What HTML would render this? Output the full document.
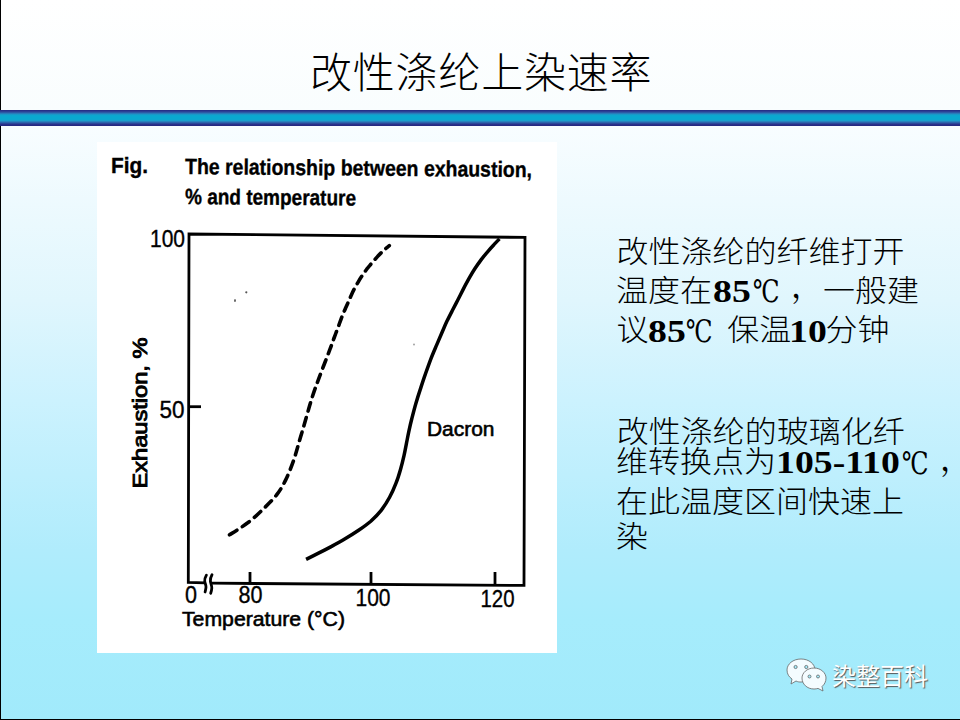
<!DOCTYPE html>
<html><head><meta charset="utf-8">
<style>
html,body{margin:0;padding:0;width:960px;height:720px;overflow:hidden;}
body{position:relative;background:linear-gradient(to bottom,#ffffff 0px,#f9fdfe 110px,#f8fdff 126px,#e0f6fd 300px,#ccf2fe 400px,#b0ecfc 550px,#a6ecfc 620px,#a1eafb 720px);font-family:"Liberation Sans","Noto Sans CJK SC",sans-serif;}
.lb{position:absolute;left:0;top:0;width:1px;height:720px;background:#000;}
.bb{position:absolute;left:0;top:719px;width:960px;height:1px;background:#000;}
.bar{position:absolute;left:0;top:110px;width:960px;height:16px;background:linear-gradient(to bottom,#232980 0px,#2a3a92 1.2px,#2d50a0 2.2px,#2a78b8 3.4px,#15a0cc 4.8px,#0aa8d0 6px,#0aa8d0 9.2px,#18a0cc 10.5px,#2a7ab8 11.8px,#2d4e9e 13.2px,#282e88 14.6px,#24287e 16px);}
.title{position:absolute;left:310px;top:47.5px;letter-spacing:0.8px;font-family:"Liberation Sans","Noto Sans CJK SC",sans-serif;font-weight:300;font-size:42px;line-height:52px;color:#000;white-space:nowrap;}
.fig{position:absolute;left:97px;top:142px;width:460px;height:511px;background:#fff;}
.c,.n,.d,.m{position:absolute;white-space:nowrap;line-height:40px;color:#000;}
.c{font-family:"Liberation Sans","Noto Sans CJK SC",sans-serif;font-weight:300;font-size:32px;transform:scaleY(0.93);transform-origin:0 19px;}
.n{font-family:"Liberation Serif",serif;font-weight:bold;font-size:32px;transform:scaleX(1.18);transform-origin:0 0;}
.d{font-family:"DejaVu Serif",serif;font-size:31px;transform:scaleX(0.77);transform-origin:0 0;}
.m{font-family:"Liberation Serif","Noto Serif CJK SC",serif;font-size:32px;}
.wm{position:absolute;left:832px;top:662px;font-family:"Liberation Sans","Noto Sans CJK SC",sans-serif;font-size:24px;line-height:30px;color:#fff;text-shadow:1px 1px 1px #555;white-space:nowrap;}
</style></head><body>
<div class="lb"></div>
<div class="title">改性涤纶上染速率</div>
<div class="bar"></div>
<div class="fig"></div>
<svg style="position:absolute;left:0;top:0" width="960" height="720" viewBox="0 0 960 720">
<g font-family="Liberation Sans, sans-serif" fill="#000">
<text stroke="#000" stroke-width="0.35" x="111" y="173" font-weight="bold" font-size="22" textLength="37" lengthAdjust="spacingAndGlyphs">Fig.</text>
<text stroke="#000" stroke-width="0.35" x="185" y="174" font-weight="bold" font-size="22" textLength="347" lengthAdjust="spacingAndGlyphs" transform="rotate(0.5 185 174)">The relationship between exhaustion,</text>
<text stroke="#000" stroke-width="0.35" x="185" y="204" font-weight="bold" font-size="22" textLength="171" lengthAdjust="spacingAndGlyphs" transform="rotate(0.5 185 204)">% and temperature</text>
<text stroke="#000" stroke-width="0.35" x="150" y="246.7" font-size="23" textLength="35" lengthAdjust="spacingAndGlyphs">100</text>
<text stroke="#000" stroke-width="0.35" x="159.5" y="417.5" font-size="23" textLength="25" lengthAdjust="spacingAndGlyphs">50</text>
<text stroke="#000" stroke-width="0.9" x="0" y="0" font-size="20" textLength="151" lengthAdjust="spacingAndGlyphs" transform="translate(147 488.5) rotate(-90)">Exhaustion, %</text>
<text stroke="#000" stroke-width="0.35" x="185" y="602.5" font-size="23" textLength="12" lengthAdjust="spacingAndGlyphs">0</text>
<text stroke="#000" stroke-width="0.35" x="238.5" y="602.7" font-size="23" textLength="24" lengthAdjust="spacingAndGlyphs">80</text>
<text stroke="#000" stroke-width="0.35" x="355.5" y="605.6" font-size="23" textLength="35" lengthAdjust="spacingAndGlyphs">100</text>
<text stroke="#000" stroke-width="0.35" x="480.5" y="606.7" font-size="23" textLength="34" lengthAdjust="spacingAndGlyphs">120</text>
<text stroke="#000" stroke-width="0.6" x="182" y="626.2" font-size="21" textLength="163" lengthAdjust="spacingAndGlyphs">Temperature (°C)</text>
<text stroke="#000" stroke-width="0.6" x="427" y="436.2" font-size="21" textLength="67.5" lengthAdjust="spacingAndGlyphs">Dacron</text>
</g>
<g fill="none" stroke="#000" stroke-width="2.8" stroke-linejoin="miter">
<polyline points="205,582.8 188.3,582.3 189,234 525,237.4 524,585.4 211,583.2"/>
<line x1="188" y1="406.7" x2="201" y2="406.7"/>
<line x1="250" y1="583" x2="250" y2="572"/>
<line x1="371" y1="584" x2="371" y2="572"/>
<line x1="495" y1="585" x2="495" y2="572"/>
<path d="M206.4 575.1 C205.2 577.2 204.4 579.3 204.7 581.3 C205 583.4 206.2 585 206 587.1 C205.8 589 205.4 590.6 205.1 592" stroke-width="2.8" stroke-linecap="round"/>
<path d="M212 574.7 C210.8 576.8 210.1 579.2 210.4 581.3 C210.7 583.6 211.9 585.8 211.8 588 C211.7 590 211.2 591.8 210.7 593.3" stroke-width="2.8" stroke-linecap="round"/>
</g>
<path d="M229.5 534.8 C231.1 533.8 235.8 531.0 238.8 529.0 C241.8 527.0 244.8 524.9 247.7 522.8 C250.6 520.6 253.4 518.2 256.1 515.8 C258.8 513.4 261.3 510.9 263.8 508.5 C266.2 506.2 268.5 503.9 270.7 501.6 C272.8 499.4 274.8 497.3 276.5 495.0 C278.3 492.8 279.8 490.6 281.3 488.1 C282.8 485.6 284.2 483.0 285.6 480.1 C287.0 477.2 288.5 473.8 289.8 470.6 C291.1 467.4 292.4 464.0 293.5 460.8 C294.6 457.6 295.5 454.6 296.4 451.5 C297.3 448.4 298.1 445.6 299.0 442.3 C299.9 439.1 300.9 435.8 302.0 432.2 C303.0 428.6 304.3 424.5 305.4 420.5 C306.5 416.6 307.7 412.5 308.8 408.6 C309.9 404.7 311.1 400.7 312.2 397.2 C313.3 393.8 314.4 390.6 315.4 387.7 C316.5 384.7 317.3 382.6 318.4 379.6 C319.5 376.7 320.7 373.4 322.0 370.0 C323.3 366.5 325.0 362.5 326.3 359.0 C327.6 355.6 328.9 352.2 330.0 349.2 C331.2 346.2 332.0 343.7 333.0 340.9 C334.0 338.1 335.1 335.4 336.1 332.5 C337.2 329.7 338.4 326.5 339.4 323.7 C340.5 320.9 341.4 318.2 342.4 315.6 C343.4 313.0 344.5 310.7 345.5 308.3 C346.6 305.9 347.6 303.6 348.6 301.4 C349.6 299.2 350.4 297.1 351.4 294.9 C352.4 292.7 353.5 290.4 354.7 288.2 C355.8 286.0 357.1 283.9 358.3 281.8 C359.6 279.6 360.8 277.6 362.2 275.6 C363.6 273.5 365.1 271.4 366.7 269.2 C368.3 267.1 370.1 265.1 371.9 262.9 C373.7 260.8 375.6 258.7 377.5 256.6 C379.4 254.6 381.3 252.6 383.2 250.8 C385.2 249.0 388.3 246.5 389.3 245.7" fill="none" stroke="#000" stroke-width="3.6" stroke-linecap="round" stroke-dasharray="8.6 6.6"/>
<path d="M306.1 559.4 C308.1 558.4 313.8 555.5 318.0 553.4 C322.2 551.3 326.7 549.0 331.2 546.6 C335.8 544.1 340.6 541.5 345.1 538.8 C349.7 536.1 354.3 533.2 358.6 530.3 C362.8 527.4 367.0 524.5 370.8 521.2 C374.5 517.8 378.0 514.3 381.2 510.3 C384.3 506.3 387.2 501.8 389.6 497.3 C392.1 492.8 394.1 488.0 395.9 483.4 C397.8 478.8 399.2 474.1 400.5 469.5 C401.8 464.9 403.0 460.0 404.0 455.6 C405.0 451.2 405.7 447.1 406.5 443.1 C407.3 439.1 407.9 435.8 408.8 431.6 C409.7 427.5 410.7 423.0 411.9 418.3 C413.1 413.6 414.4 408.5 415.8 403.7 C417.2 398.9 418.6 394.4 420.2 389.6 C421.8 384.7 423.4 379.6 425.2 374.6 C427.0 369.5 428.9 364.1 430.8 359.1 C432.7 354.2 434.8 349.4 436.7 344.9 C438.6 340.5 440.4 336.2 442.1 332.2 C443.8 328.3 445.3 324.7 447.0 321.1 C448.7 317.6 450.4 314.3 452.2 310.8 C454.0 307.3 455.9 303.6 457.8 300.0 C459.6 296.4 461.5 292.6 463.3 289.1 C465.2 285.5 467.0 282.1 468.9 278.7 C470.8 275.3 472.7 272.0 474.8 268.8 C476.9 265.6 479.2 262.4 481.4 259.4 C483.6 256.5 485.9 253.7 488.0 251.3 C490.1 248.8 492.0 246.7 493.9 244.7 C495.8 242.6 498.5 239.9 499.4 238.9" fill="none" stroke="#000" stroke-width="3.5"/>
<ellipse cx="235" cy="300.4" rx="0.8" ry="1.5" fill="#444"/><circle cx="246.3" cy="292.3" r="1.1" fill="#555"/><circle cx="414" cy="344.5" r="0.9" fill="#999"/>
</svg>
<div class="c" style="left:616.4px;top:231.6px">改性涤纶的纤维打开</div>
<div class="c" style="left:616px;top:270.5px">温度在</div>
<div class="n" style="left:712.8px;top:270.6px">85</div>
<div class="d" style="left:752.5px;top:271px">℃</div>
<div class="m" style="left:791px;top:266px">，</div>
<div class="c" style="left:823px;top:270.5px">一般建</div>
<div class="c" style="left:616.5px;top:310.4px">议</div>
<div class="n" style="left:648px;top:310.6px">85</div>
<div class="d" style="left:685.5px;top:311px">℃</div>
<div class="c" style="left:727.3px;top:310.4px">保温</div>
<div class="n" style="left:788.5px;top:310.6px">10</div>
<div class="c" style="left:825.5px;top:310.4px">分钟</div>
<div class="c" style="left:616.7px;top:411.85px">改性涤纶的玻璃化纤</div>
<div class="c" style="left:616px;top:441.6px">维转换点为</div>
<div class="n" style="left:775.75px;top:441.5px">105-110</div>
<div class="d" style="left:902px;top:443px">℃</div>
<div class="m" style="left:940px;top:439px">，</div>
<div class="c" style="left:616px;top:481.5px">在此温度区间快速上</div>
<div class="c" style="left:616px;top:517px">染</div>
<svg style="position:absolute;left:785px;top:655px" width="45" height="40" viewBox="0 0 45 40">
<g fill="#f4fcff" stroke="#666" stroke-width="0.8">
<path d="M16 4 C8 4 2 9 2 15 C2 19 4 22 7 24 L6 29 L11 26 C13 27 14.5 27 16 27 C24 27 30 22 30 15 C30 9 24 4 16 4 Z"/>
<path d="M29 13 C22 13 17 18 17 23 C17 29 22 34 29 34 C30.5 34 32 33.7 33 33.4 L38 36 L37 31.5 C39.5 29.5 41 26.5 41 23 C41 18 36 13 29 13 Z"/>
</g>
<g fill="#a6ecfb" stroke="#555" stroke-width="0.7"><circle cx="10.6" cy="12" r="1.6"/><circle cx="21.3" cy="12" r="1.6"/><circle cx="24.5" cy="21.5" r="1.5"/><circle cx="33" cy="21.5" r="1.5"/></g>
</svg>
<div class="wm">染整百科</div>
<div class="bb"></div>
</body></html>
